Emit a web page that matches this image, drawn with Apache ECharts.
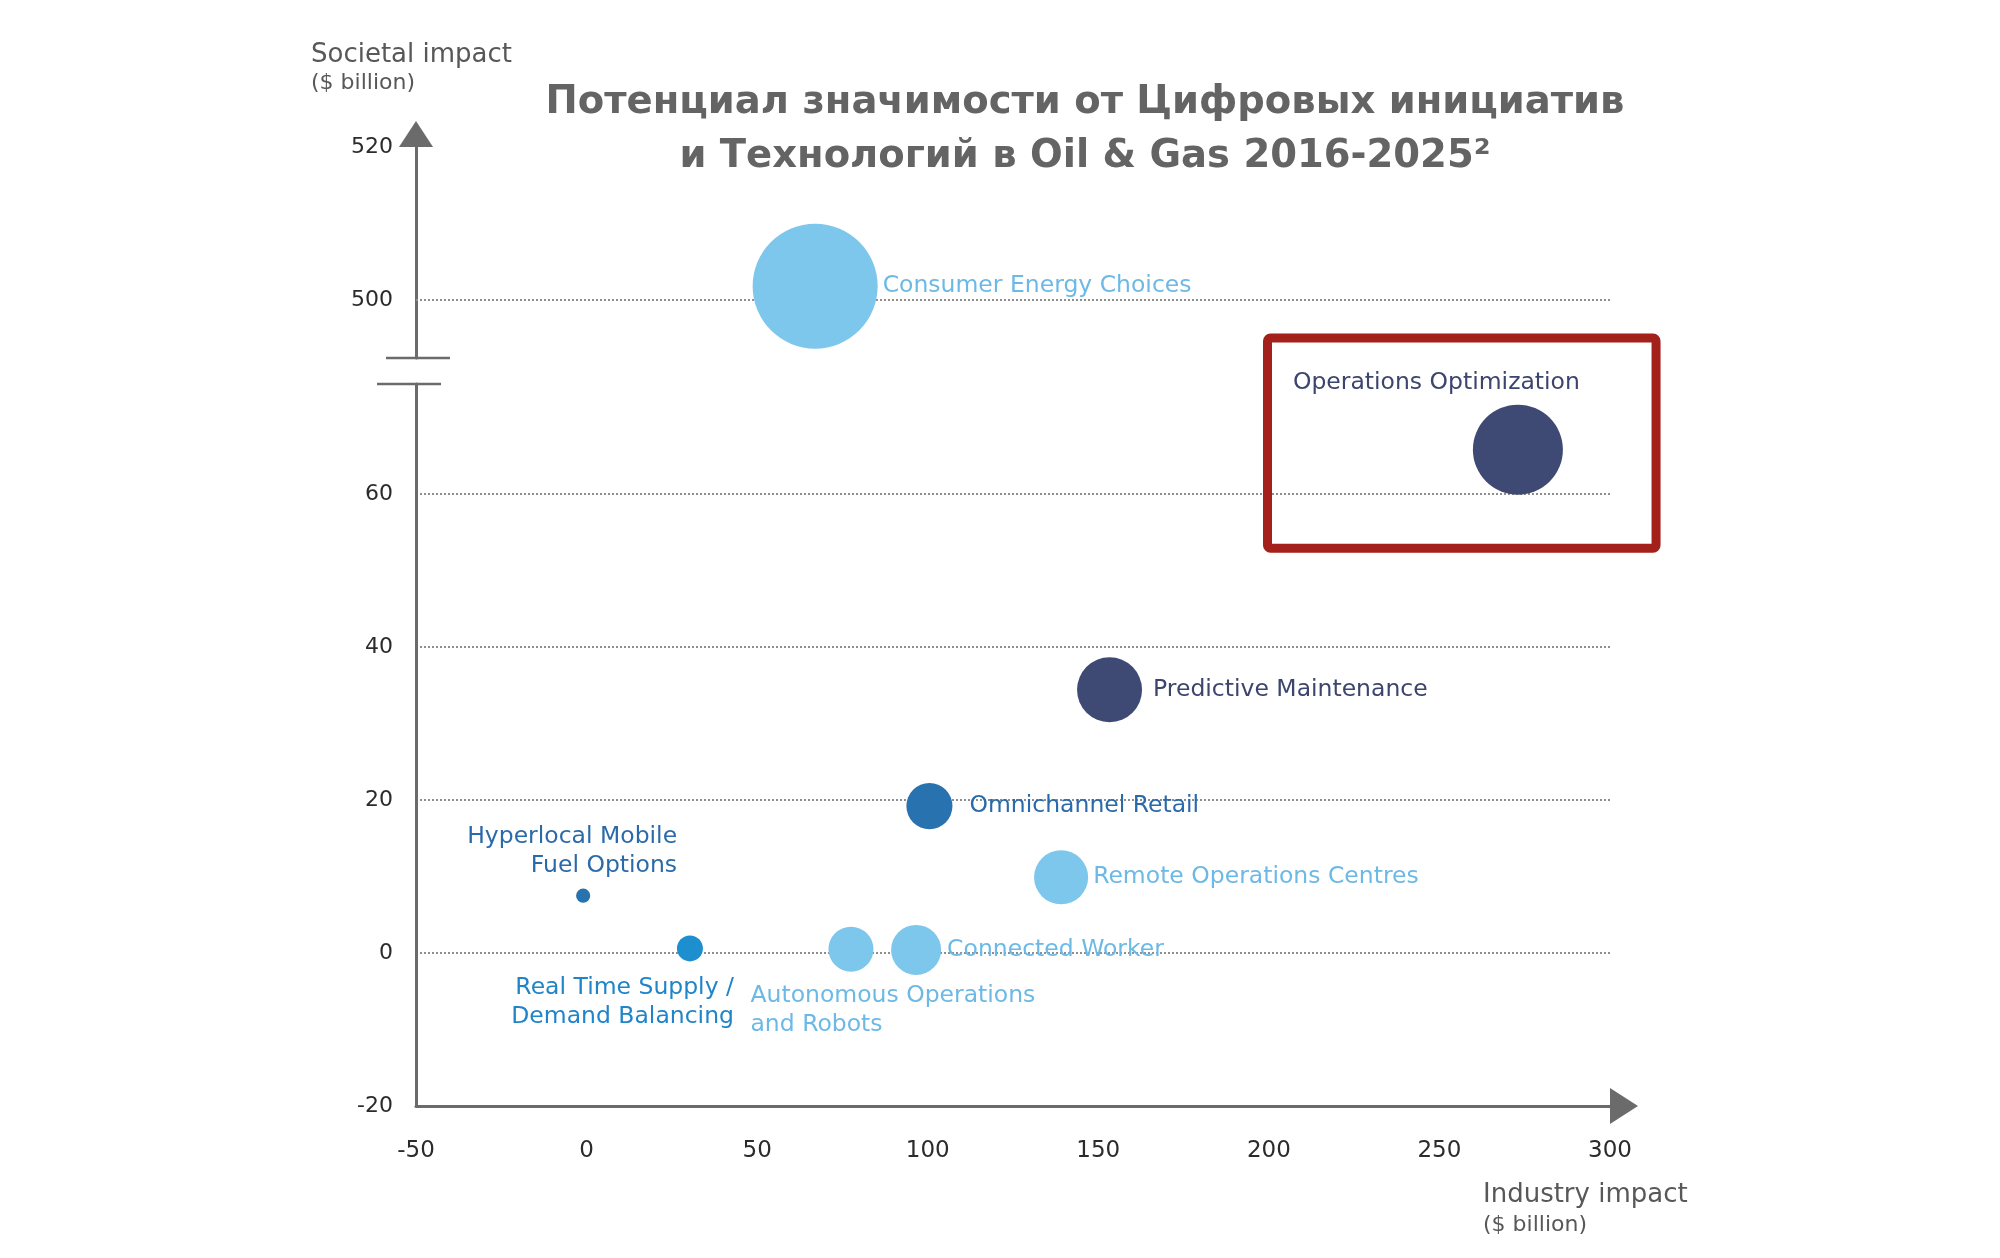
<!DOCTYPE html>
<html>
<head>
<meta charset="utf-8">
<script src="https://cdn.jsdelivr.net/npm/echarts@6/dist/echarts.min.js"></script>
<style>
html,body{margin:0;padding:0;background:#ffffff;}
#chart{width:2000px;height:1258px;}
</style>
</head>
<body>
<div id="chart"></div>
<script>
// ---------------- DATA ----------------
const initiatives = [
  'Consumer Energy Choices',
  'Operations Optimization',
  'Predictive Maintenance',
  'Omnichannel Retail',
  'Remote Operations Centres',
  'Hyperlocal Mobile\nFuel Options',
  'Real Time Supply /\nDemand Balancing',
  'Autonomous Operations\nand Robots',
  'Connected Worker'
];
const industryImpact = [67.0, 273.0, 153.3, 100.5, 139.1, -1.0, 30.3, 77.5, 96.6];   // $ billion (x)
const societalImpact = [501.8, 65.8, 34.4, 19.2, 9.9, 7.5, 0.6, 0.5, 0.4];           // $ billion (y)
const bubbleValue = [625, 324, 169, 85, 117, 8, 27, 81, 100];                       // relative bubble size
const groupId = [1, 2, 2, 3, 1, 3, 4, 1, 1];

const xTicks = [-50, 0, 50, 100, 150, 200, 250, 300];
const yTicksLower = [-20, 0, 20, 40, 60];
const yTicksUpper = [500, 520];
const upperGridLines = [500];       // gridline drawn in the upper (broken) part
const axisBreak = [74.38, 492.4];   // societal impact range skipped by the axis break
const highlightBox = {x0: 199.6, x1: 313.5, y0: 52.9, y1: 80.4}; // red highlight frame (data units)

const titleText = 'Потенциал значимости от Цифровых инициатив\nи Технологий в Oil & Gas 2016-2025²';

// ---------------- STYLE ----------------
const FONT = 'DejaVu Sans';
const bubbleColors = {1: '#7dc6ec', 2: '#3e4a74', 3: '#2872b0', 4: '#1d8fcf'};
const labelColors  = {1: '#6cb9e6', 2: '#3c456e', 3: '#2b6aaa', 4: '#1f84c8'};
const labelPlacement = [
  {position: 'right', distance: 5},
  {position: [-180, -22], align: 'left', verticalAlign: 'middle'},
  {position: 'right', distance: 11},
  {position: 'right', distance: 17},
  {position: 'right', distance: 5},
  {position: [101, -8], align: 'right', verticalAlign: 'bottom'},
  {position: [57, 38], align: 'right', verticalAlign: 'top'},
  {position: [-78, 55], align: 'left', verticalAlign: 'top'},
  {position: 'right', distance: 6}
];

function buildItems(upper) {
  const items = [];
  initiatives.forEach(function (name, i) {
    const isUpper = societalImpact[i] > axisBreak[1];
    if (isUpper !== upper) return;
    const g = groupId[i];
    items.push({
      name: name,
      value: [industryImpact[i], societalImpact[i], bubbleValue[i]],
      itemStyle: {color: bubbleColors[g], opacity: 1},
      label: Object.assign({
        show: true,
        formatter: '{b}',
        color: labelColors[g],
        fontFamily: FONT,
        fontSize: 23.5,
        lineHeight: 29
      }, labelPlacement[i])
    });
  });
  return items;
}

const gridLineStyle = {color: '#8e8e8e', width: 2, type: [2, 2]};
const axisLineStyle = {color: '#6b6b6b', width: 3};
const tickLabel = {fontFamily: FONT, fontSize: 22, color: '#2b2b2b'};

const chart = echarts.init(document.getElementById('chart'), null, {renderer: 'canvas'});

const option = {
  animation: false,
  backgroundColor: '#ffffff',
  title: [
    {text: titleText, left: 1080, top: 71, textAlign: 'center',
     textStyle: {fontFamily: FONT, fontSize: 38.5, fontWeight: 'bold', color: '#646464', lineHeight: 54}},
    {text: 'Societal impact', left: 311, top: 40, padding: 0,
     textStyle: {fontFamily: FONT, fontSize: 26, fontWeight: 'normal', color: '#585858', lineHeight: 30}},
    {text: '($ billion)', left: 311, top: 71, padding: 0,
     textStyle: {fontFamily: FONT, fontSize: 22, fontWeight: 'normal', color: '#585858', lineHeight: 24}},
    {text: 'Industry impact', left: 1483, top: 1180, padding: 0,
     textStyle: {fontFamily: FONT, fontSize: 26, fontWeight: 'normal', color: '#585858', lineHeight: 30}},
    {text: '($ billion)', left: 1483, top: 1213, padding: 0,
     textStyle: {fontFamily: FONT, fontSize: 22, fontWeight: 'normal', color: '#585858', lineHeight: 24}}
  ],
  grid: [
    {left: 416, right: 390, top: 147, height: 211, containLabel: false},
    {left: 416, right: 390, top: 384, bottom: 152, containLabel: false}
  ],
  xAxis: [
    {gridIndex: 0, type: 'value', min: xTicks[0], max: xTicks[xTicks.length - 1], show: false},
    {gridIndex: 1, type: 'value', min: xTicks[0], max: xTicks[xTicks.length - 1], interval: 50,
     axisLine: {show: true, onZero: false, lineStyle: axisLineStyle,
                symbol: ['none', 'triangle'], symbolSize: [36, 28], symbolOffset: [0, 14]},
     axisTick: {show: false},
     splitLine: {show: false},
     axisLabel: Object.assign({margin: 34, customValues: xTicks}, tickLabel, {fontSize: 23})}
  ],
  yAxis: [
    {gridIndex: 0, type: 'value', min: axisBreak[1], max: yTicksUpper[yTicksUpper.length - 1],
     axisLine: {show: true, onZero: false, lineStyle: axisLineStyle,
                symbol: ['none', 'triangle'], symbolSize: [34, 26], symbolOffset: [0, 13]},
     axisTick: {show: false},
     splitLine: {show: false},
     axisLabel: Object.assign({margin: 23, customValues: yTicksUpper, padding: [5, 0, 0, 0]}, tickLabel)},
    {gridIndex: 1, type: 'value', min: yTicksLower[0], max: axisBreak[0], interval: 20,
     axisLine: {show: true, onZero: false, lineStyle: axisLineStyle},
     axisTick: {show: false},
     splitLine: {show: true, lineStyle: gridLineStyle, showMinLine: false, showMaxLine: false},
     axisLabel: Object.assign({margin: 23, customValues: yTicksLower, padding: [4, 0, 0, 0]}, tickLabel)}
  ],
  series: [
    {type: 'scatter', xAxisIndex: 0, yAxisIndex: 0, z: 3,
     symbolSize: function (v) { return Math.sqrt(v[2]) * 5; },
     emphasis: {disabled: true},
     markLine: {
       silent: true, z: 1, symbol: ['none', 'none'], label: {show: false},
       lineStyle: gridLineStyle, emphasis: {disabled: true},
       data: upperGridLines.map(function (v) { return {yAxis: v}; })
     },
     data: buildItems(true)},
    {type: 'scatter', xAxisIndex: 1, yAxisIndex: 1, z: 3,
     symbolSize: function (v) { return Math.sqrt(v[2]) * 5; },
     emphasis: {disabled: true},
     data: buildItems(false)}
  ]
};
chart.setOption(option);

// ---------------- DECORATIONS (axis break marks, highlight frame) ----------------
const bTop = chart.convertToPixel({gridIndex: 0}, [xTicks[0], axisBreak[1]]);
const bBot = chart.convertToPixel({gridIndex: 1}, [xTicks[0], axisBreak[0]]);
const hb0 = chart.convertToPixel({gridIndex: 1}, [highlightBox.x0, highlightBox.y1]);
const hb1 = chart.convertToPixel({gridIndex: 1}, [highlightBox.x1, highlightBox.y0]);
const markStyle = {stroke: '#6b6b6b', lineWidth: 2.5};
chart.setOption({
  graphic: [
    {type: 'line', z: 10, shape: {x1: bTop[0] - 30, y1: bTop[1], x2: bTop[0] + 34, y2: bTop[1]}, style: markStyle},
    {type: 'line', z: 10, shape: {x1: bBot[0] - 39, y1: bBot[1], x2: bBot[0] + 25, y2: bBot[1]}, style: markStyle},
    {type: 'rect', z: 10, shape: {x: hb0[0], y: hb0[1], width: hb1[0] - hb0[0], height: hb1[1] - hb0[1], r: 3},
     style: {fill: 'none', stroke: '#a3201b', lineWidth: 9}}
  ]
});
</script>
</body>
</html>
